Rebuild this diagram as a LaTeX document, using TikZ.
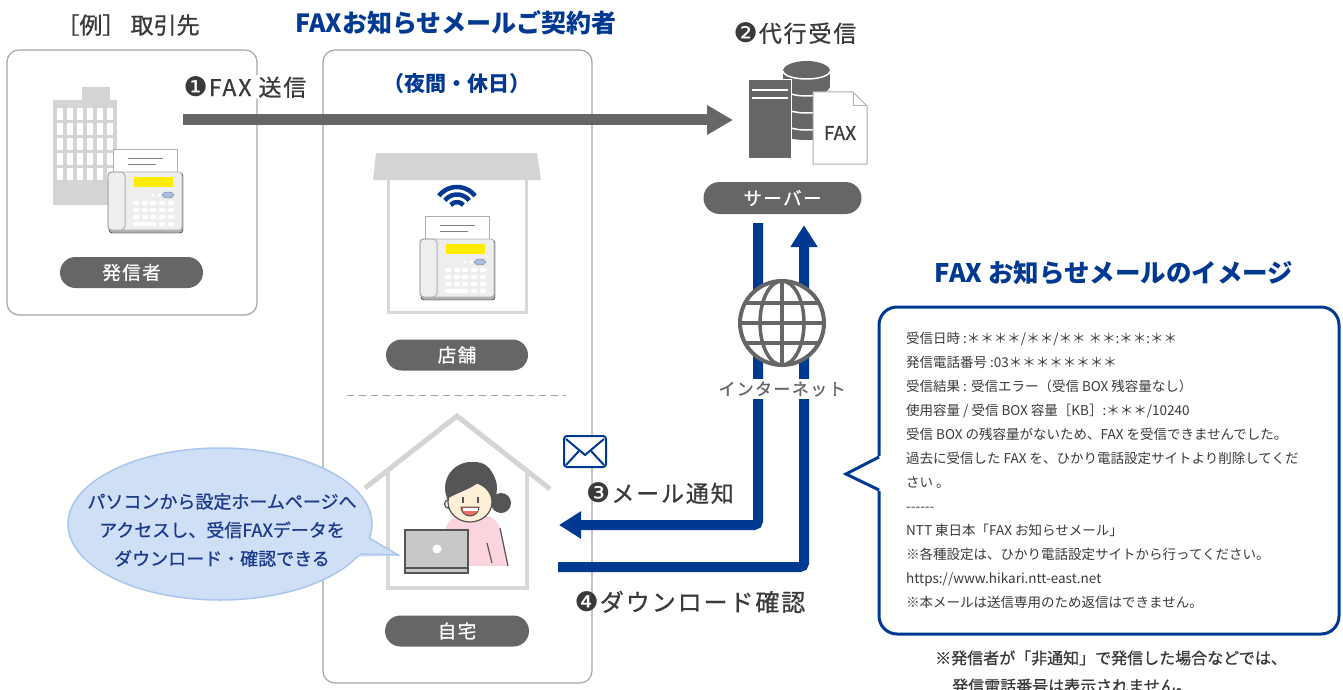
\documentclass[tikz,border=0pt]{standalone}
\usepackage{fontspec}
\setmainfont{Noto Sans CJK JP}
\newfontfamily\dv{DejaVu Sans}
\newfontfamily\jmed[FakeBold=0.8]{Noto Sans CJK JP}
\newfontfamily\jmedsp[FakeBold=0.8,LetterSpace=8]{Noto Sans CJK JP}
\usetikzlibrary{arrows.meta}

\definecolor{ntblue}{RGB}{0,57,145}
\definecolor{pillgray}{RGB}{102,102,102}
\definecolor{inkgray}{RGB}{58,58,58}
\definecolor{framegray}{RGB}{165,165,165}
\definecolor{bldgray}{RGB}{212,212,212}
\definecolor{wallgray}{RGB}{216,216,216}
\definecolor{faxbody}{RGB}{238,238,238}
\definecolor{faxedge}{RGB}{175,175,175}
\definecolor{faxyellow}{RGB}{255,236,0}
\definecolor{keyblue}{RGB}{170,190,228}
\definecolor{balloonfill}{RGB}{206,223,246}
\definecolor{balloonedge}{RGB}{170,198,238}
\definecolor{balloontext}{RGB}{28,58,140}
\definecolor{hair}{RGB}{85,85,85}
\definecolor{skin}{RGB}{253,240,214}
\definecolor{shirt}{RGB}{251,212,221}
\definecolor{mouthred}{RGB}{236,110,100}
\definecolor{lapgray}{RGB}{200,200,200}

\newcommand\jfs[1]{\fontsize{#1}{#1}\selectfont}
\newcommand\cnum[1]{{\dv\fontsize{27}{27}\selectfont #1}\hspace{1pt}}

\tikzset{
  pill/.style={fill=pillgray, text=white, rounded corners=15.5pt, minimum height=31pt,
    inner sep=0pt, font=\jmedsp\jfs{18.5}},
  frame/.style={draw=framegray, line width=1.2pt, rounded corners=12pt},
  grayarrow/.style={draw=pillgray, line width=11pt, -{Triangle[length=26pt,width=28pt]}},
  bluearrow/.style={draw=ntblue, line width=10pt, rounded corners=4pt,
    -{Triangle[length=22pt,width=26pt]}},
  steplabel/.style={font=\jmedsp\jfs{23}, text=inkgray},
  mailline/.style={anchor=base west, inner sep=0pt, font=\jfs{13.5}, text=inkgray},
  pics/faxmachine/.style={code={
    % paper sheet coming out of the machine
    \filldraw[fill=white, draw=faxedge, line width=0.8pt] (5,-23) rectangle (69,2);
    \draw[gray, line width=1pt] (20,-14) -- (55,-14) (20,-8) -- (48,-8);
    % body and handset
    \filldraw[fill=faxedge, rounded corners=3pt] (1,1) rectangle (75,61);
    \filldraw[fill=faxbody, draw=faxedge, line width=0.8pt, rounded corners=3pt] (0,0) rectangle (74,58);
    \filldraw[fill=faxbody, draw=faxedge, line width=1pt, rounded corners=4pt] (0,0) rectangle (17,58);
    % display and keys
    \fill[faxyellow] (26,5) rectangle (65,15);
    \filldraw[fill=keyblue, draw=keyblue!70!black, line width=0.4pt] (60,23) ellipse (6 and 3);
    \fill[white] (45,23) circle (1.8) (51,23) circle (1.8);
    \foreach \r in {31,38,45}
      \foreach \c in {28,37,45,54,63}
        \fill[white, rounded corners=1pt] ({\c-3},{\r-2}) rectangle ({\c+3},{\r+2});
    \fill[white, rounded corners=1pt] (25,50) rectangle (48,54);
    \fill[white, rounded corners=1pt] (51,50) rectangle (57,54) (60,50) rectangle (66,54);
  }},
}

\begin{document}
\begin{tikzpicture}[x=1pt, y=-1pt]
\useasboundingbox (0,0) rectangle (1343,690);
\fill[white] (0,0) rectangle (1343,690);

% ---------- frames ----------
\draw[frame] (7,50) rectangle (257,315);
\draw[frame] (323,50) rectangle (592,683);

% ---------- headings ----------
\node[font=\jmed\jfs{23}, text=inkgray] (reilbl) at (128,25) {［例］ 取引先};
\node[font=\bfseries\jfs{25}, text=ntblue] (title) at (456,23) {FAXお知らせメールご契約者};
\node[font=\bfseries\jfs{21}, text=ntblue] (nightlbl) at (457,84) {（夜間・休日）};
\node[steplabel] (proxylbl) at (795,33) {\cnum{❷}代行受信};

% ---------- sender: office building with fax ----------
\fill[bldgray] (53,100) rectangle (117,205);
\fill[bldgray] (82,87) rectangle (110,100);
\foreach \r in {108,123,138,153,168}
  \foreach \c in {57,67,77,87,97,107}
    \fill[white] (\c,\r) rectangle ++(6,12);
\pic at (108,172) {faxmachine};
\node[pill, minimum width=143pt] (sender) at (131.5,272.5) {発信者};

% ---------- store ----------
\fill[bldgray] (376,153) -- (537,153) -- (541,180) -- (373,180) -- cycle;
\draw[wallgray, line width=3pt] (388.5,180) -- (388.5,312) -- (526,312) -- (526,180);
\foreach \rad in {23,15.5,8}
  \draw[ntblue, line width=4.5pt] (457,210) ++(218:\rad) arc[start angle=218, end angle=322, radius=\rad];
\pic at (420,239) {faxmachine};
\node[pill, minimum width=142pt] (shop) at (457,355) {店舗};

\draw[framegray, line width=1pt, dash pattern=on 7pt off 5pt] (347,395) -- (566,395);

% ---------- home ----------
\draw[bldgray, line width=5pt] (365,488) -- (457,416) -- (550,489);
\draw[wallgray, line width=3.5pt] (388,470) -- (388,588) -- (527,588) -- (527,471);
% person
\fill[hair] (501,503) circle (10);
\fill[hair] (471,488) ellipse (26 and 26);
\fill[shirt] (441,566) -- (445,530) .. controls (448,518) and (458,514) .. (471,514)
  .. controls (488,514) and (497,518) .. (500,528) -- (508,566) -- cycle;
\draw[hair, line width=1.2pt] (500,528) -- (508,566);
\draw[hair, line width=1.2pt] (487,543) -- (492,563);
\filldraw[fill=skin, draw=hair, line width=1.2pt] (449,504) circle (4.5);
\filldraw[fill=skin, draw=hair, line width=1.2pt] (470,502) ellipse (22 and 20);
\fill[hair] (447,499) .. controls (444,472) and (458,462) .. (474,462)
  .. controls (492,462) and (498,478) .. (494,500)
  .. controls (490,490) and (485,485) .. (480,481)
  .. controls (472,489) and (458,492) .. (447,499) -- cycle;
\draw[hair, line width=2pt] (463,497) -- (463,503) (478,497) -- (478,503);
\filldraw[fill=mouthred, draw=hair, line width=1pt] (461,507) -- (479,507)
  arc[start angle=0, end angle=180, radius=9] -- cycle;
\fill[white] (462.5,508) rectangle (477.5,510.5);
% laptop
\filldraw[fill=lapgray, draw=hair, line width=1.5pt] (405,530) rectangle (468,568);
\filldraw[fill=lapgray, draw=hair, line width=1.2pt] (405,568) rectangle (468,573);
\fill[white] (437,549) circle (4.5);
\node[pill, minimum width=144pt] (home) at (457,631) {自宅};

% ---------- speech balloon ----------
\fill[balloonfill] (365,536) -- (398,555) -- (355,557) -- cycle;
\filldraw[fill=balloonfill, draw=balloonedge, line width=1.5pt] (220,524) ellipse (152 and 76);
\fill[balloonfill] (366,537.5) -- (396,555) -- (357,555.5) -- (340,548) -- cycle;
\draw[balloonedge, line width=1.5pt, line join=miter] (369.4,538) -- (398,555) -- (359.5,554);
\node[align=center, font=\jmed\fontsize{18}{28.5}\selectfont, text=balloontext] (tiptext) at (222,530)
  {パソコンから設定ホームページへ\\アクセスし、受信FAXデータを\\ダウンロード・確認できる};

% ---------- server ----------
\fill[pillgray] (783,71) rectangle (830,135);
\fill[pillgray] (806.5,135) ellipse (23.5 and 5);
\fill[pillgray] (806.5,71) ellipse (23.5 and 10);
\foreach \yy in {71,88,105,122}
  \draw[white, line width=1.5pt] (783,\yy) arc[start angle=180, end angle=0, x radius=23.5, y radius=8];
\filldraw[fill=pillgray, draw=white, line width=1pt] (748,80) rectangle (791,158);
\draw[white, line width=1.5pt] (752,90) -- (788,90) (752,98) -- (788,98);
\filldraw[fill=white, draw=faxedge, line width=1pt] (813,92) -- (853,92) -- (867,106) -- (867,164) -- (813,164) -- cycle;
\draw[faxedge, line width=1pt] (853,92) -- (853,106) -- (867,106);
\node[font=\jmed\jfs{19}, text=inkgray] (doclbl) at (840,133) {FAX};
\node[pill, minimum width=158pt, minimum height=32pt, rounded corners=16pt] (srvlabel) at (782.5,198) {サーバー};

% ---------- step 1: FAX transmission ----------
\coordinate (a1from) at (183,120);
\coordinate (a1to) at (733,120);
\draw[grayarrow] (a1from) -- (a1to);
\node[fill=white, inner sep=1pt, font=\jmedsp\jfs{23}, text=inkgray] (sendlbl) at (245,87) {\cnum{❶}FAX 送信};

% ---------- steps 3 and 4 through the internet ----------
\coordinate (n3tip) at (559,525);
\coordinate (n4start) at (558,567);
\draw[bluearrow] ([xshift=-24.5pt,yshift=-9pt]srvlabel.south) |- (n3tip);
\draw[bluearrow] (n4start) -| ([xshift=21.5pt,yshift=-11pt]srvlabel.south);

\node[circle, minimum size=84pt, inner sep=0pt, fill=white] (globe) at (782,323) {};
\begin{scope}
  \clip (globe.center) circle (42);
  \draw[pillgray, line width=3.5pt] (782,280) -- (782,366)
    (739,303) -- (825,303) (739,323) -- (825,323) (739,343) -- (825,343);
  \draw[pillgray, line width=3.5pt] (globe.center) ellipse (22 and 42);
\end{scope}
\draw[pillgray, line width=4pt] (globe.center) circle (42);
\node[fill=white, inner sep=2pt, font=\jmedsp\jfs{17}, text=pillgray] (netlbl) at (782,389) {インターネット};

% envelope
\filldraw[fill=white, draw=ntblue, line width=2pt, rounded corners=3pt] (564,436) rectangle (606,467);
\draw[ntblue, line width=2pt, line join=round] (566,439) -- (585,455) -- (604,439);
\draw[ntblue, line width=2pt] (566,465) -- (579,451) (604,465) -- (591,451);

\node[steplabel] (mailstep) at (660,493) {\cnum{❸}メール通知};
\node[steplabel, font=\jmedsp\jfs{24}] (dlstep) at (690,602) {\cnum{❹}ダウンロード確認};

% ---------- sample notification mail ----------
\node[font=\bfseries\jfs{25.5}, text=ntblue] (mailtitle) at (1114,273) {FAX お知らせメールのイメージ};
\filldraw[fill=white, draw=ntblue, line width=3pt, rounded corners=18pt] (879,307) rectangle (1339,634);
\fill[white] (882,455) -- (846,474) -- (882,492) -- cycle;
\draw[ntblue, line width=3pt, line join=miter] (879,457) -- (846,474) -- (879,490);

\foreach \t [count=\i] in {
  {受信日時 :＊＊＊＊/＊＊/＊＊ ＊＊:＊＊:＊＊},
  {発信電話番号 :03＊＊＊＊＊＊＊＊},
  {受信結果 : 受信エラー（受信 BOX 残容量なし）},
  {使用容量 / 受信 BOX 容量［KB］:＊＊＊/10240},
  {受信 BOX の残容量がないため、FAX を受信できませんでした。},
  {過去に受信した FAX を、ひかり電話設定サイトより削除してくだ},
  {さい 。},
  {{-}{-}{-}{-}{-}{-}},
  {NTT 東日本「FAX お知らせメール」},
  {※各種設定は、ひかり電話設定サイトから行ってください。},
  {https://www.hikari.ntt-east.net},
  {※本メールは送信専用のため返信はできません。}}
  \node[mailline] (mail\i) at (906,{319+24*\i}) {\t};

% ---------- footnote ----------
\node[anchor=base west, inner sep=0pt, font=\jmed\jfs{16}, text=inkgray] (note1) at (935,664)
  {※発信者が「非通知」で発信した場合などでは、};
\node[anchor=base west, inner sep=0pt, font=\jmed\jfs{16}, text=inkgray] (note2) at (952,692)
  {発信電話番号は表示されません。};
\end{tikzpicture}
\end{document}
